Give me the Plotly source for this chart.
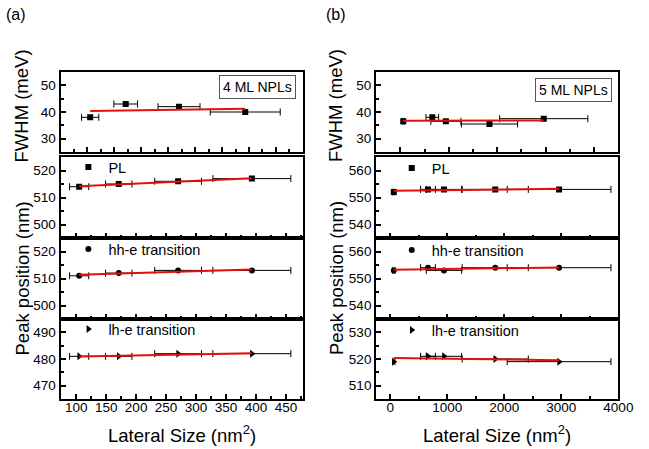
import numpy as np
import plotly.graph_objects as go

# ---------------- data ----------------
# (a) 4 ML NPLs
a_size = [105, 171, 270, 393]
a_size_err = [16, 22, 39, 65]
a_fwhm = [38, 43, 42, 40]
a_pl = [514, 515, 516, 517]
a_hh = [511, 512, 513, 513]
a_lh = [481, 481, 482, 482]

# (b) 5 ML NPLs
b_size = [60, 660, 940, 1840, 2960]
b_size_err = [20, 130, 310, 580, 910]
b_fwhm = [36.5, 38, 36.5, 35.5, 37.5]
b_pl = [552, 553, 553, 553, 553]
b_hh = [553, 554, 553, 554, 554]
b_lh = [519, 521, 521, 520, 519]

legend_names = ["PL", "hh-e transition", "lh-e transition"]
panel_labels = ["(a)", "(b)"]
box_labels = ["4 ML NPLs", "5 ML NPLs"]

W, H = 649, 449
FONT = "Liberation Sans, Arial, sans-serif"
RED = "#e01010"

def px_x(p):
    return p / W

def px_y(p):
    return 1 - p / H

# layout geometry (pixels)
col_x = [(62, 310), (385, 633)]
row_y = [(72, 152), (157, 238), (238, 319), (319, 399)]

# axis ranges
x_ranges = [
    [[50, 500], [74, 478], [74, 478], [74, 478]],
    [[-500, 4500], [-250, 4000], [-250, 4000], [-250, 4000]],
]
x_dtick = [[50, 50, 50, 50], [1000, 1000, 1000, 1000]]
y_ranges = [
    [[25, 55], [495, 525], [495, 525], [465, 495]],
    [[25, 55], [535, 565], [535, 565], [505, 535]],
]
y_ticks = [
    [[30, 40, 50], [500, 510, 520], [500, 510, 520], [470, 480, 490]],
    [[30, 40, 50], [540, 550, 560], [540, 550, 560], [510, 520, 530]],
]

data = [
    (a_size, a_size_err, [a_fwhm, a_pl, a_hh, a_lh]),
    (b_size, b_size_err, [b_fwhm, b_pl, b_hh, b_lh]),
]
symbols = ["square", "square", "circle", "triangle-right"]
msizes = [6, 6, 6, 7]

fig = go.Figure()
layout = {}
legend_idx = 1
# legend anchor positions (pixels)
leg_pos = [[(70, 167), (70, 249), (70, 329)], [(401, 168), (401, 250), (401, 330)]]

for c in range(2):
    xs, xerr, series = data[c]
    for r in range(4):
        n = c * 4 + r + 1
        xa = "x" if n == 1 else f"x{n}"
        ya = "y" if n == 1 else f"y{n}"
        xkey = "xaxis" if n == 1 else f"xaxis{n}"
        ykey = "yaxis" if n == 1 else f"yaxis{n}"
        ys = series[r]
        trace_kwargs = dict(
            x=xs, y=ys, mode="markers", xaxis=xa, yaxis=ya,
            marker=dict(symbol=symbols[r], size=msizes[r], color="black"),
            error_x=dict(type="data", array=xerr, color="black", thickness=1, width=3.5),
            name=legend_names[r - 1] if r > 0 else "FWHM",
            showlegend=r > 0,
        )
        if r > 0:
            lname = "legend" if legend_idx == 1 else f"legend{legend_idx}"
            trace_kwargs["legend"] = lname
            lx, ly = leg_pos[c][r - 1]
            layout[lname] = dict(
                x=px_x(lx), y=px_y(ly), xanchor="left", yanchor="middle",
                bgcolor="rgba(0,0,0,0)", borderwidth=0,
                font=dict(family=FONT, size=14.5, color="black"),
                itemwidth=30, tracegroupgap=0,
            )
            legend_idx += 1
        fig.add_trace(go.Scatter(**trace_kwargs))
        # linear fit
        k, b = np.polyfit(xs, ys, 1)
        fx = np.array([min(xs), max(xs)])
        fig.add_trace(go.Scatter(
            x=fx, y=k * fx + b, mode="lines", xaxis=xa, yaxis=ya,
            line=dict(color=RED, width=2), showlegend=False, hoverinfo="skip",
        ))
        x0, x1 = col_x[c]
        y0, y1 = row_y[r]
        common = dict(
            showline=True, linecolor="black", linewidth=2, mirror=True,
            ticks="inside", ticklen=5, tickwidth=1.5, tickcolor="black",
            showgrid=False, zeroline=False,
            tickfont=dict(family=FONT, size=13.5, color="black"),
        )
        layout[xkey] = dict(
            common, domain=[px_x(x0), px_x(x1)], range=x_ranges[c][r],
            anchor=ya, dtick=x_dtick[c][r], tick0=0,
            showticklabels=(r == 3), ticklabelstandoff=-5,
            minor=dict(ticks="inside", ticklen=3, tickwidth=1.5, tickcolor="black",
                       dtick=x_dtick[c][r] / 2, showgrid=False),
        )
        layout[ykey] = dict(
            common, domain=[px_y(y1), px_y(y0)], range=y_ranges[c][r],
            anchor=xa, tickvals=y_ticks[c][r],
            minor=dict(ticks="inside", ticklen=3, tickwidth=1.5, tickcolor="black",
                       dtick=5, showgrid=False),
        )

annotations = []
title_font = dict(family=FONT, size=18.5, color="black")
# y titles
for cx in (22, 343):
    annotations.append(dict(text="FWHM (meV)", x=px_x(cx), y=px_y(106), xref="paper", yref="paper",
                            textangle=-90, showarrow=False, font=title_font,
                            xanchor="center", yanchor="middle"))
    annotations.append(dict(text="Peak position (nm)", x=px_x(cx + 1), y=px_y(278), xref="paper", yref="paper",
                            textangle=-90, showarrow=False, font=title_font,
                            xanchor="center", yanchor="middle"))
# x titles
for cx in (186, 509):
    annotations.append(dict(text="Lateral Size (nm<sup>2</sup>)", x=px_x(cx), y=px_y(448),
                            xref="paper", yref="paper", showarrow=False, font=title_font,
                            xanchor="center", yanchor="bottom"))
# panel labels
for lbl, cx in zip(panel_labels, (16, 344)):
    annotations.append(dict(text=lbl, x=px_x(cx), y=px_y(15), xref="paper", yref="paper",
                            showarrow=False, font=dict(family=FONT, size=16, color="black"),
                            xanchor="center", yanchor="middle"))
# boxes
for lbl, cx, cy in zip(box_labels, (263.5, 587.5), (87.5, 89.5)):
    annotations.append(dict(text=lbl, x=px_x(cx), y=px_y(cy), xref="paper", yref="paper",
                            showarrow=False, font=dict(family=FONT, size=14, color="black"),
                            xanchor="center", yanchor="middle", bordercolor="#555555",
                            borderwidth=1, borderpad=3, bgcolor="white"))

fig.update_layout(
    width=W, height=H, margin=dict(l=0, r=0, t=0, b=0),
    paper_bgcolor="white", plot_bgcolor="white",
    annotations=annotations, **layout,
)
fig.write_html(
    "out.html",
    config={"displayModeBar": False},
    post_script="document.body.style.margin='0';document.body.style.overflow='hidden';",
)
